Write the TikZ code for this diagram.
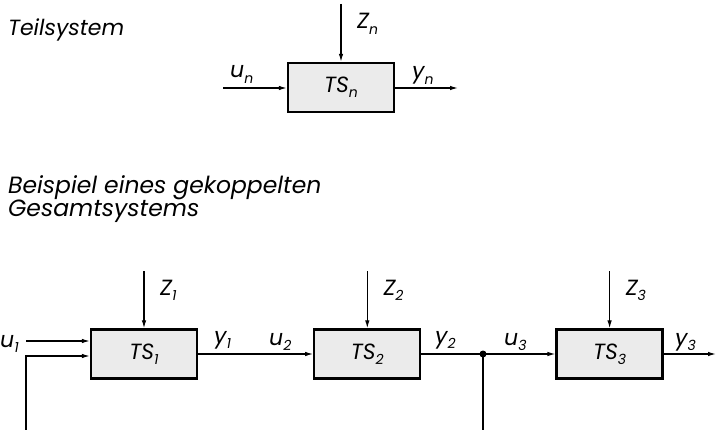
\documentclass[tikz,border=0pt]{standalone}
\usepackage{fontspec}
\setmainfont{Poppins}
\usetikzlibrary{positioning,arrows.meta,calc}
\newcommand{\idx}[1]{\raisebox{-0.45ex}{\fontsize{14}{14}\selectfont#1}}

\begin{document}
\begin{tikzpicture}[x=1pt,y=-1pt,>={Latex[length=8pt,width=4.5pt]},font=\itshape\fontsize{22}{24}\selectfont]
  \tikzstyle{tsbox}=[draw,line width=2.3pt,fill=black!8,minimum width=106pt,minimum height=49pt,inner sep=0pt]
  \tikzstyle{sig}=[line width=1.2pt]
  \tikzstyle{lab}=[inner sep=0pt,anchor=base west]
  \tikzstyle{title}=[inner sep=0pt,anchor=base west,align=left,font=\itshape\fontsize{22}{22}\selectfont]
  \useasboundingbox (0,0) rectangle (717,430);
  % Teilsystem
  \node[title] (t1) at (8,36) {Teilsystem};
  \node[tsbox] (bn) at (341,87.5) {TS\idx{n}};
  \coordinate[above=58pt of bn.north] (zn);
  \coordinate (un) at (223,88);
  \coordinate (yn) at (458,88);
  \draw[sig,->] (zn) -- (bn.north);
  \draw[sig,->] (un) -- (un -| bn.west);
  \draw[sig,->] (yn -| bn.east) -- (yn);
  \node[lab] (lzn) at (357,29) {Z\idx{n}};
  \node[lab] (lun) at (230,78) {u\idx{n}};
  \node[lab] (lyn) at (412,79) {y\idx{n}};
  % gekoppeltes Gesamtsystem
  \node[title,font=\itshape\fontsize{23.5}{22}\selectfont] (t2) at (8,217) {Beispiel eines gekoppelten\\Gesamtsystems};
  \node[tsbox] (b1) at (144,354) {TS\idx{1}};
  \node[tsbox,right=115pt of b1] (b2) {TS\idx{2}};
  \node[tsbox,right=134pt of b2] (b3) {TS\idx{3}};
  \foreach \i in {1,2,3} {
    \coordinate[above=57pt of b\i.north] (z\i);
    \draw[sig,->] (z\i) -- (b\i.north);
    \node[lab] (lz\i) at ($(z\i)+(16,24)$) {Z\idx{\i}};
  }
  \coordinate (u1) at (26,341);
  \coordinate (fb) at (26,356);
  \coordinate (j) at (483,354);
  \coordinate (y3) at (716,354);
  \draw[sig,->] (u1) -- (u1 -| b1.west);
  \draw[sig,->] (b1.east) -- (b2.west);
  \draw[sig] (b2.east) -- (j);
  \draw[sig,->] (j) -- (b3.west);
  \draw[sig,->] (b3.east) -- (y3);
  \draw[sig,->] (j) -- ++(0,90) -| (fb) -- (fb -| b1.west);
  \fill (j) circle (3.5pt);
  \node[lab] (lu1) at (0,347) {u\idx{1}};
  \node[lab] (ly1) at (214,343) {y\idx{1}};
  \node[lab] (lu2) at (269,345) {u\idx{2}};
  \node[lab] (ly2) at (435,343) {y\idx{2}};
  \node[lab] (lu3) at (504,345) {u\idx{3}};
  \node[lab] (ly3) at (675,345) {y\idx{3}};
\end{tikzpicture}
\end{document}
